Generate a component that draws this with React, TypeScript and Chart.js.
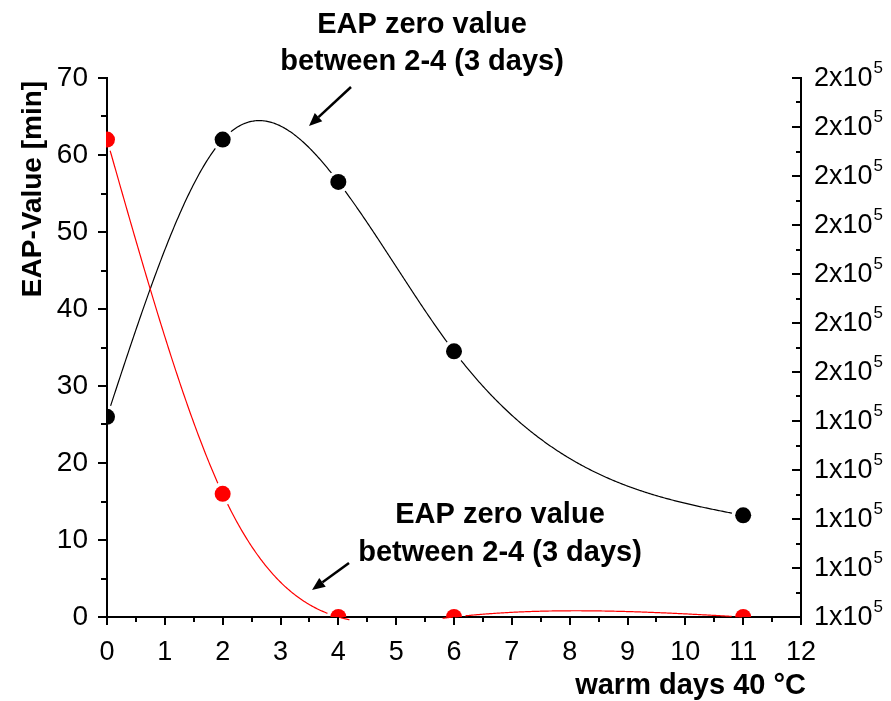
import { useEffect, useRef } from "react";
import { Chart, registerables } from "chart.js";

Chart.register(...registerables);

// Warm days at 40 °C and EAP values [min]
const warmDays = [0, 2, 4, 6, 11];
const eapBlack = [26, 62, 56.5, 34.5, 13.2];
const eapRed = [62, 16, 0, 0, 0];

// Axis ranges and tick steps
const xRange = [0, 12];
const leftRange = [0, 70];
const rightRange = [100000, 210000];
const rightStep = 10000;
const rightExponent = 5;

const noteLines = ["EAP zero value", "between 2-4 (3 days)"];
const xTitle = "warm days 40 °C";
const yTitle = "EAP-Value [min]";

const FONT = "'Liberation Sans', Arial, Helvetica, sans-serif";
const DOT_RADIUS = 8;

// Natural cubic spline through the given points
function naturalSpline(xs: number[], ys: number[]) {
  const n = xs.length;
  const h: number[] = [];
  for (let i = 0; i < n - 1; i++) h.push(xs[i + 1] - xs[i]);
  const M = new Array(n).fill(0);
  const a: number[] = [], b: number[] = [], c: number[] = [], d: number[] = [];
  for (let i = 1; i < n - 1; i++) {
    a[i] = h[i - 1];
    b[i] = 2 * (h[i - 1] + h[i]);
    c[i] = h[i];
    d[i] = 6 * ((ys[i + 1] - ys[i]) / h[i] - (ys[i] - ys[i - 1]) / h[i - 1]);
  }
  // Thomas algorithm
  for (let i = 2; i < n - 1; i++) {
    const m = a[i] / b[i - 1];
    b[i] -= m * c[i - 1];
    d[i] -= m * d[i - 1];
  }
  for (let i = n - 2; i >= 1; i--) {
    M[i] = (d[i] - (i < n - 2 ? c[i] * M[i + 1] : 0)) / b[i];
  }
  return (x: number) => {
    let i = 0;
    while (i < n - 2 && x > xs[i + 1]) i++;
    const hi = h[i];
    const A = xs[i + 1] - x;
    const B = x - xs[i];
    return (
      (M[i] * A * A * A) / (6 * hi) +
      (M[i + 1] * B * B * B) / (6 * hi) +
      (ys[i] - (M[i] * hi * hi) / 6) * (A / hi) +
      (ys[i + 1] - (M[i + 1] * hi * hi) / 6) * (B / hi)
    );
  };
}

// Spline curves, broken around each symbol
const splinePlugin = {
  id: "splineLines",
  beforeDatasetsDraw(chart: any) {
    const { ctx, chartArea: area } = chart;
    const xs = chart.scales.x;
    const ys = chart.scales.y;
    const gap = DOT_RADIUS + 3.5;
    ctx.save();
    ctx.beginPath();
    ctx.rect(area.left, area.top, area.right - area.left, area.bottom - area.top);
    chart.data.datasets.forEach((ds: any) => {
      ds.data.forEach((p: any) => {
        const px = xs.getPixelForValue(p.x);
        const py = ys.getPixelForValue(p.y);
        ctx.moveTo(px + gap, py);
        ctx.arc(px, py, gap, 0, Math.PI * 2);
      });
    });
    ctx.clip("evenodd");
    chart.data.datasets.forEach((ds: any) => {
      const px = ds.data.map((p: any) => p.x);
      const py = ds.data.map((p: any) => p.y);
      const f = naturalSpline(px, py);
      ctx.beginPath();
      const steps = 600;
      const x0 = px[0];
      const x1 = px[px.length - 1];
      for (let k = 0; k <= steps; k++) {
        const xv = x0 + ((x1 - x0) * k) / steps;
        const X = xs.getPixelForValue(xv);
        const Y = ys.getPixelForValue(f(xv));
        if (k === 0) ctx.moveTo(X, Y);
        else ctx.lineTo(X, Y);
      }
      ctx.strokeStyle = ds.backgroundColor;
      ctx.lineWidth = 1.2;
      ctx.stroke();
    });
    ctx.restore();
  },
};

// Symbols are cut at the left and bottom axes
const symbolClipPlugin = {
  id: "symbolClip",
  beforeDatasetDraw(chart: any) {
    const { ctx, chartArea: area } = chart;
    ctx.save();
    ctx.beginPath();
    ctx.rect(area.left - 1, 0, chart.width, area.bottom);
    ctx.clip();
  },
  afterDatasetDraw(chart: any) {
    chart.ctx.restore();
  },
};

function drawArrow(ctx: CanvasRenderingContext2D, x0: number, y0: number, x1: number, y1: number) {
  const ang = Math.atan2(y1 - y0, x1 - x0);
  const head = 13;
  const wing = 5.5;
  const bx = x1 - head * Math.cos(ang);
  const by = y1 - head * Math.sin(ang);
  ctx.beginPath();
  ctx.moveTo(x0, y0);
  ctx.lineTo(bx, by);
  ctx.strokeStyle = "#000";
  ctx.lineWidth = 2.5;
  ctx.stroke();
  ctx.beginPath();
  ctx.moveTo(x1, y1);
  ctx.lineTo(bx + wing * Math.sin(ang), by - wing * Math.cos(ang));
  ctx.lineTo(bx - wing * Math.sin(ang), by + wing * Math.cos(ang));
  ctx.closePath();
  ctx.fillStyle = "#000";
  ctx.fill();
}

const decorPlugin = {
  id: "axisDecor",
  afterDraw(chart: any) {
    const { ctx, chartArea: area } = chart;
    const sx = chart.scales.x;
    const sy = chart.scales.y;
    const sr = chart.scales.y2;
    ctx.save();
    ctx.strokeStyle = "#000";
    ctx.lineWidth = 2;
    ctx.lineCap = "butt";

    // bottom axis ticks (major + minor)
    for (let v = xRange[0]; v <= xRange[1] + 1e-9; v += 0.5) {
      const px = Math.round(sx.getPixelForValue(v));
      const len = Number.isInteger(v) ? 8 : 5;
      ctx.beginPath();
      ctx.moveTo(px, area.bottom);
      ctx.lineTo(px, area.bottom + len);
      ctx.stroke();
    }
    // left axis ticks
    for (let v = leftRange[0]; v <= leftRange[1]; v += 5) {
      const py = Math.round(sy.getPixelForValue(v));
      const len = v % 10 === 0 ? 9 : 6;
      ctx.beginPath();
      ctx.moveTo(area.left - len, py);
      ctx.lineTo(area.left, py);
      ctx.stroke();
    }
    // right axis ticks (pointing inward)
    for (let v = rightRange[0]; v <= rightRange[1]; v += rightStep / 2) {
      const py = Math.round(sr.getPixelForValue(v));
      const len = v % rightStep === 0 ? 9 : 5;
      ctx.beginPath();
      ctx.moveTo(area.right - len, py);
      ctx.lineTo(area.right, py);
      ctx.stroke();
    }

    // right axis labels with superscript exponent
    ctx.fillStyle = "#000";
    ctx.textBaseline = "middle";
    ctx.textAlign = "left";
    for (let v = rightRange[0]; v <= rightRange[1]; v += rightStep) {
      const py = sr.getPixelForValue(v);
      const mant = `${Math.round(v / Math.pow(10, rightExponent))}x10`;
      ctx.font = `27px ${FONT}`;
      const x0 = area.right + 13;
      ctx.fillText(mant, x0, py + 1);
      const w = ctx.measureText(mant).width;
      ctx.font = `17px ${FONT}`;
      ctx.fillText(String(rightExponent), x0 + w + 1, py - 10);
    }

    // axis titles
    ctx.textBaseline = "alphabetic";
    ctx.font = `bold 29px ${FONT}`;
    ctx.textAlign = "right";
    ctx.fillText(xTitle, 806, 694);

    ctx.font = `bold 28px ${FONT}`;
    ctx.save();
    ctx.translate(41, 189);
    ctx.rotate(-Math.PI / 2);
    ctx.textAlign = "center";
    ctx.fillText(yTitle, 0, 0);
    ctx.restore();

    // notes with arrows
    ctx.font = `bold 29px ${FONT}`;
    ctx.textAlign = "center";
    ctx.fillText(noteLines[0], 422, 33);
    ctx.fillText(noteLines[1], 422, 70);
    drawArrow(ctx, 351, 87, 309, 126);

    ctx.fillText(noteLines[0], 500, 523);
    ctx.fillText(noteLines[1], 500, 561);
    drawArrow(ctx, 349, 563, 312, 590);

    ctx.restore();
  },
};

export default function App() {
  const ref = useRef<HTMLCanvasElement | null>(null);

  useEffect(() => {
    if (!ref.current) return;
    const toPoints = (vals: number[]) => warmDays.map((x, i) => ({ x, y: vals[i] }));
    const symbol = (color: string) => ({
      showLine: false,
      backgroundColor: color,
      borderColor: color,
      pointRadius: DOT_RADIUS,
      pointHoverRadius: DOT_RADIUS,
      pointBorderWidth: 0,
      clip: false as const,
    });
    const chart = new Chart(ref.current, {
      type: "line",
      data: {
        datasets: [
          { label: "EAP black", data: toPoints(eapBlack), ...symbol("#000000") },
          { label: "EAP red", data: toPoints(eapRed), ...symbol("#ff0000") },
        ],
      },
      options: {
        responsive: false,
        devicePixelRatio: 1,
        animation: false,
        events: [],
        layout: { padding: { top: 78, left: 0, right: 0, bottom: 0 } },
        plugins: {
          legend: { display: false },
          tooltip: { enabled: false },
        },
        scales: {
          x: {
            type: "linear",
            min: xRange[0],
            max: xRange[1],
            ticks: {
              stepSize: 1,
              color: "#000",
              font: { family: FONT, size: 27 },
              padding: 19,
              maxRotation: 0,
            },
            grid: { display: false, drawTicks: false },
            border: { display: true, color: "#000", width: 2 },
            afterFit: (s: any) => {
              s.height = 84;
            },
          },
          y: {
            type: "linear",
            position: "left",
            min: leftRange[0],
            max: leftRange[1],
            ticks: {
              stepSize: 10,
              color: "#000",
              font: { family: FONT, size: 28 },
              padding: 19,
            },
            grid: { display: false, drawTicks: false },
            border: { display: true, color: "#000", width: 2 },
            afterFit: (s: any) => {
              s.width = 107;
            },
          },
          y2: {
            type: "linear",
            position: "right",
            min: rightRange[0],
            max: rightRange[1],
            ticks: { stepSize: rightStep, display: false },
            grid: { display: false, drawTicks: false },
            border: { display: true, color: "#000", width: 2 },
            afterFit: (s: any) => {
              s.width = 90;
            },
          },
        },
      },
      plugins: [splinePlugin, symbolClipPlugin, decorPlugin],
    });
    return () => chart.destroy();
  }, []);

  return (
    <div style={{ position: "fixed", left: 0, top: 0, width: 891, height: 701, background: "#fff" }}>
      <canvas ref={ref} width={891} height={701} style={{ display: "block" }} />
    </div>
  );
}
